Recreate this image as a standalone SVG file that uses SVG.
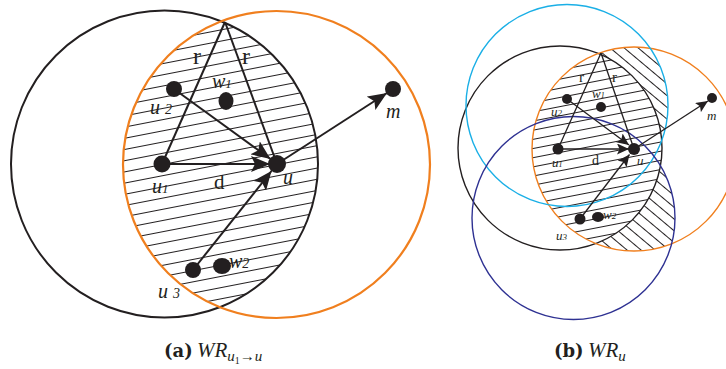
<svg xmlns="http://www.w3.org/2000/svg" width="726" height="369" viewBox="0 0 726 369">
<style>
.bk{fill:none;stroke:#231F20}
.or{fill:none;stroke:#F07F1E}
.cy{fill:none;stroke:#1AAFE6}
.nv{fill:none;stroke:#2E3192}
.ln{stroke:#231F20;fill:none}
.dot{fill:#231F20}
.lb{font-family:"Liberation Serif",serif;font-style:italic;fill:#231F20}
.rm{font-family:"Liberation Serif",serif;fill:#231F20}
.cap{font-family:"Liberation Serif",serif;fill:#231F20}
</style>
<defs>
<pattern id="hA" patternUnits="userSpaceOnUse" width="60" height="11" patternTransform="rotate(-11)"><line x1="0" y1="5.5" x2="60" y2="5.5" stroke="#231F20" stroke-width="1.1"/></pattern>
<pattern id="hB" patternUnits="userSpaceOnUse" width="60" height="9" patternTransform="rotate(-11)"><line x1="0" y1="4.5" x2="60" y2="4.5" stroke="#231F20" stroke-width="1"/></pattern>
<pattern id="hS" patternUnits="userSpaceOnUse" width="60" height="9" patternTransform="rotate(40)"><line x1="0" y1="4.5" x2="60" y2="4.5" stroke="#231F20" stroke-width="1"/></pattern>
<clipPath id="cA1"><circle cx="164.5" cy="164" r="153.5"/></clipPath>
<clipPath id="cA2"><circle cx="276.5" cy="164.5" r="153.5"/></clipPath>
<clipPath id="cB1"><circle cx="560" cy="148" r="102"/></clipPath>
<clipPath id="cB2"><circle cx="634" cy="149" r="102"/></clipPath>
<mask id="mS" maskUnits="userSpaceOnUse" x="440" y="0" width="286" height="330">
<circle cx="567" cy="105.5" r="101" fill="#fff"/>
<circle cx="573.5" cy="218" r="101.5" fill="#fff"/>
<circle cx="560" cy="148" r="102" fill="#000"/>
</mask>
<marker id="aA" markerUnits="userSpaceOnUse" markerWidth="20" markerHeight="16" refX="19" refY="8" orient="auto"><path d="M0,0 L19,8 L0,16 L4,8 z" fill="#231F20"/></marker>
<marker id="aB" markerUnits="userSpaceOnUse" markerWidth="13" markerHeight="11" refX="12" refY="5.5" orient="auto"><path d="M0,0 L12,5.5 L0,11 L2.5,5.5 z" fill="#231F20"/></marker>
</defs>

<!-- Panel (a) -->
<g id="a-hatch" clip-path="url(#cA1)"><rect x="100" y="0" width="240" height="330" fill="url(#hA)" clip-path="url(#cA2)"/></g>
<g id="a-range-u1"><circle class="bk" cx="164.5" cy="164" r="153.5" stroke-width="2"/></g>
<g id="a-range-u"><circle class="or" cx="276.5" cy="164.5" r="153.5" stroke-width="2.2"/></g>
<g id="a-connectors">
<line class="ln" stroke-width="2" x1="225" y1="22" x2="162" y2="164"/>
<line class="ln" stroke-width="2" x1="225" y1="22" x2="277" y2="164"/>
<line class="ln" stroke-width="2" x1="162" y1="164" x2="270" y2="164" marker-end="url(#aA)"/>
<line class="ln" stroke-width="2" x1="174" y1="89" x2="270.5" y2="159" marker-end="url(#aA)"/>
<line class="ln" stroke-width="2" x1="193" y1="270" x2="271.5" y2="171" marker-end="url(#aA)"/>
<line class="ln" stroke-width="2" x1="277" y1="164" x2="387" y2="93" marker-end="url(#aA)"/>
<text class="rm" x="193" y="64" font-size="24">r</text>
<text class="rm" x="242" y="64" font-size="24">r</text>
<text class="rm" x="214" y="189" font-size="21">d</text>
</g>
<g id="a-u1"><circle class="dot" cx="162" cy="164" r="8.5"/><text class="lb" x="152" y="193" font-size="20">u<tspan font-size="13">1</tspan></text></g>
<g id="a-u"><circle class="dot" cx="277" cy="164" r="9"/><text class="lb" x="283" y="184" font-size="20">u</text></g>
<g id="a-u2"><circle class="dot" cx="174" cy="89" r="8"/><text class="lb" x="150" y="114" font-size="20">u <tspan font-size="14">2</tspan></text></g>
<g id="a-w1"><ellipse class="dot" cx="226" cy="101" rx="7.5" ry="9"/><text class="lb" x="212" y="88" font-size="20">w<tspan font-size="13">1</tspan></text></g>
<g id="a-m"><circle class="dot" cx="393" cy="89" r="8"/><text class="lb" x="386" y="118" font-size="20">m</text></g>
<g id="a-u3"><circle class="dot" cx="193" cy="270" r="8"/><text class="lb" x="158" y="298" font-size="20">u <tspan font-size="14">3</tspan></text></g>
<g id="a-w2"><ellipse class="dot" cx="222" cy="266" rx="9" ry="8"/><text class="lb" x="229" y="268" font-size="20">w<tspan font-size="14">2</tspan></text></g>

<!-- Panel (b) -->
<g id="b-hatch">
<g clip-path="url(#cB1)"><rect x="440" y="0" width="286" height="330" fill="url(#hB)" clip-path="url(#cB2)"/></g>
<g clip-path="url(#cB2)"><rect x="440" y="0" width="286" height="330" fill="url(#hS)" mask="url(#mS)"/></g>
</g>
<g id="b-range-u1"><circle class="bk" cx="560" cy="148" r="102" stroke-width="1.4"/></g>
<g id="b-range-u"><circle class="or" cx="634" cy="149" r="102" stroke-width="1.4"/></g>
<g id="b-range-u2"><circle class="cy" cx="567" cy="105.5" r="101" stroke-width="1.4"/></g>
<g id="b-range-u3"><circle class="nv" cx="573.5" cy="218" r="101.5" stroke-width="1.4"/></g>
<g id="b-connectors">
<line class="ln" stroke-width="1.3" x1="601" y1="53" x2="558" y2="149"/>
<line class="ln" stroke-width="1.3" x1="601" y1="53" x2="634" y2="149"/>
<line class="ln" stroke-width="1.3" x1="558" y1="149" x2="629" y2="149" marker-end="url(#aB)"/>
<line class="ln" stroke-width="1.3" x1="567" y1="99" x2="629" y2="145" marker-end="url(#aB)"/>
<line class="ln" stroke-width="1.3" x1="580" y1="219" x2="629.5" y2="154.5" marker-end="url(#aB)"/>
<line class="ln" stroke-width="1.3" x1="634" y1="149" x2="708" y2="101" marker-end="url(#aB)"/>
<text class="rm" x="579" y="82" font-size="15">r</text>
<text class="rm" x="612" y="82" font-size="15">r</text>
<text class="rm" x="592" y="165" font-size="14">d</text>
</g>
<g id="b-u1"><circle class="dot" cx="558" cy="149" r="5.5"/><text class="lb" x="552" y="167" font-size="13">u<tspan font-size="8">1</tspan></text></g>
<g id="b-u"><circle class="dot" cx="634" cy="149" r="6"/><text class="lb" x="637" y="165" font-size="13">u</text></g>
<g id="b-u2"><circle class="dot" cx="567" cy="99" r="5"/><text class="lb" x="551" y="116" font-size="13">u<tspan font-size="9">2</tspan></text></g>
<g id="b-w1"><circle class="dot" cx="601" cy="107" r="5"/><text class="lb" x="592" y="98" font-size="13">w<tspan font-size="8">1</tspan></text></g>
<g id="b-m"><circle class="dot" cx="712" cy="98" r="5"/><text class="lb" x="707" y="120" font-size="13">m</text></g>
<g id="b-u3"><circle class="dot" cx="580" cy="219" r="5.5"/><text class="lb" x="556" y="240" font-size="13">u<tspan font-size="9">3</tspan></text></g>
<g id="b-w2"><ellipse class="dot" cx="598" cy="217" rx="6" ry="5"/><text class="lb" x="603" y="219" font-size="13">w<tspan font-size="9">2</tspan></text></g>

<!-- Captions -->
<g id="caption-a">
<text class="cap" x="164" y="357"><tspan font-family="'DejaVu Serif',serif" font-weight="bold" font-size="18">(a)</tspan><tspan x="197" font-style="italic" font-size="21">WR</tspan><tspan font-style="italic" font-size="15" dy="4">u</tspan><tspan font-size="10" dy="3">1</tspan><tspan font-size="15" dy="-3">→</tspan><tspan font-style="italic" font-size="15">u</tspan></text>
</g>
<g id="caption-b">
<text class="cap" x="554" y="357"><tspan font-family="'DejaVu Serif',serif" font-weight="bold" font-size="18">(b)</tspan><tspan x="588" font-style="italic" font-size="21">WR</tspan><tspan font-style="italic" font-size="15" dy="4">u</tspan></text>
</g>
</svg>
